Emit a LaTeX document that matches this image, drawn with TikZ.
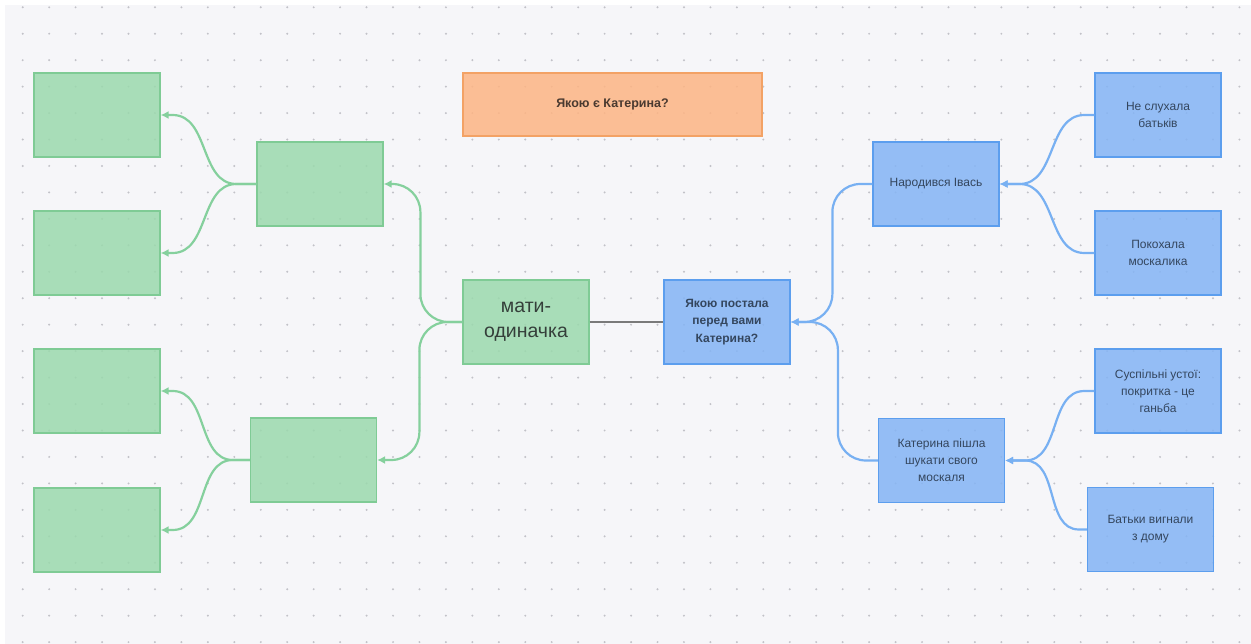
\documentclass[tikz,border=0pt]{standalone}
\usepackage{fontspec}
\setmainfont{Liberation Sans}
\usetikzlibrary{arrows.meta}
\definecolor{bg}{HTML}{F6F6F9}
\definecolor{dotc}{HTML}{C2C2C8}
\definecolor{gfill}{HTML}{9BD9AD}
\definecolor{gdraw}{HTML}{7FCB95}
\definecolor{gline}{HTML}{85D09D}
\definecolor{bfill}{HTML}{84B4F5}
\definecolor{bdraw}{HTML}{5C9EEE}
\definecolor{bline}{HTML}{78B0F2}
\definecolor{ofill}{HTML}{FDB584}
\definecolor{odraw}{HTML}{F3A265}
\definecolor{btxt}{HTML}{34465E}
\definecolor{gtxt}{HTML}{353F3A}
\definecolor{otxt}{HTML}{4A3A30}
\definecolor{glink}{HTML}{7A7A7A}
\begin{document}
\begin{tikzpicture}[x=1pt,y=-1pt,
  box/.style={rectangle, minimum width=126pt, minimum height=84pt, inner sep=2pt,
    line width=1.2pt, align=center, font=\fontsize{12}{17}\selectfont,
    fill opacity=0.85, text opacity=1},
  gbox/.style={box, fill=gfill, draw=gdraw, text=gtxt},
  bbox/.style={box, fill=bfill, draw=bdraw, text=btxt},
  obox/.style={box, fill=ofill, draw=odraw, text=otxt, minimum width=299pt, minimum height=63pt,
    font=\fontsize{12.5}{15}\selectfont\bfseries},
  gcurve/.style={draw=gline, line width=2.2pt, -{Latex[length=8pt,width=8pt]}},
  bcurve/.style={draw=bline, line width=2.2pt, -{Latex[length=8pt,width=8pt]}},
  gcon/.style={gcurve, rounded corners=28pt},
  bcon/.style={bcurve, rounded corners=28pt},
  graylink/.style={draw=glink, line width=2pt}
]
\useasboundingbox (0,0) rectangle (1251,644);
\fill[white] (0,0) rectangle (1251,644);
\fill[bg] (5,5) rectangle (1251,644);
\foreach \i in {0,...,46} {
  \foreach \j in {0,...,24} {
    \fill[dotc] (22.7+\i*26.45, 7.3+\j*26.45) circle (1.1pt);
  }
}
% nodes
\node[obox] (q) at (612.5,104.5) {Якою є Катерина?};
\node[gbox, font=\fontsize{19.5}{25}\selectfont] (mati) at (526,322) {мати-\\одиначка};
\node[bbox, font=\fontsize{12}{17.5}\selectfont\bfseries] (ctr) at (727,322) {Якою постала\\перед вами\\Катерина?};
\node[gbox] (m1) at (320,184) {};
\node[gbox] (m2) at (313.5,460) {};
\node[gbox] (l1) at (97,115) {};
\node[gbox] (l2) at (97,253) {};
\node[gbox] (l3) at (97,391) {};
\node[gbox] (l4) at (97,530) {};
\node[bbox] (nar) at (936,184) {Народився Івась};
\node[bbox] (kp) at (941.5,460.5) {Катерина пішла\\шукати свого\\москаля};
\node[bbox] (ns) at (1158,115) {Не слухала\\батьків};
\node[bbox] (pk) at (1158,253) {Покохала\\москалика};
\node[bbox] (su) at (1158,391) {Суспільні устої:\\покритка - це\\ганьба};
\node[bbox] (bv) at (1150.5,529.5) {Батьки вигнали\\з дому};
% connectors
\draw[graylink] (mati.east) -- (ctr.west);
\draw[gcon] (mati.west) -- ++(-42,0) |- (m1.east);
\draw[gcon] (mati.west) -- ++(-43,0) |- (m2.east);
\draw[gcurve] (m1.west) -- ++(-20,0) to[out=180,in=0] ([xshift=12pt]l1.east) -- (l1.east);
\draw[gcurve] (m1.west) -- ++(-20,0) to[out=180,in=0] ([xshift=12pt]l2.east) -- (l2.east);
\draw[gcurve] (m2.west) -- ++(-17,0) to[out=180,in=0] ([xshift=12pt]l3.east) -- (l3.east);
\draw[gcurve] (m2.west) -- ++(-17,0) to[out=180,in=0] ([xshift=12pt]l4.east) -- (l4.east);
\draw[bcurve] (ns.west) -- ++(-10,0) to[out=180,in=0] ([xshift=20pt]nar.east) -- (nar.east);
\draw[bcurve] (pk.west) -- ++(-10,0) to[out=180,in=0] ([xshift=20pt]nar.east) -- (nar.east);
\draw[bcon] (nar.west) -- ++(-40,0) |- (ctr.east);
\draw[bcon] (kp.west) -- ++(-40,0) |- (ctr.east);
\draw[bcurve] (su.west) -- ++(-10,0) to[out=180,in=0] ([xshift=20pt]kp.east) -- (kp.east);
\draw[bcurve] (bv.west) -- ++(-8,0) to[out=180,in=0] ([xshift=20pt]kp.east) -- (kp.east);
\end{tikzpicture}
\end{document}
